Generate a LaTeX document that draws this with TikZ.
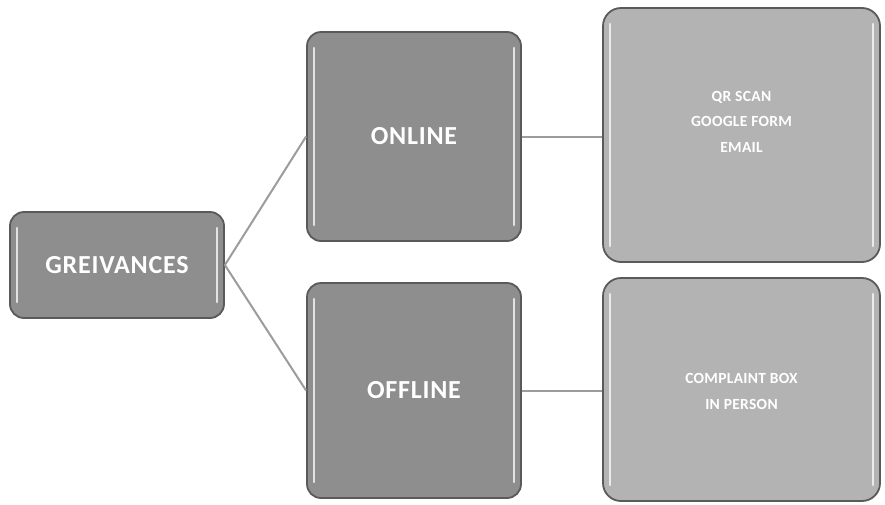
\documentclass[tikz,border=0pt]{standalone}
\usepackage{fontspec}
\setmainfont{Carlito}
\newfontfamily\boxfont[LetterSpace=3]{Carlito}
\newfontfamily\smallboxfont[LetterSpace=2]{Carlito}
\definecolor{darkfill}{HTML}{8E8E8E}
\definecolor{lightfill}{HTML}{B3B3B3}
\definecolor{edgegray}{HTML}{5A5A5A}
\definecolor{linkgray}{HTML}{9C9C9C}
\tikzset{
  gloss/.style={path picture={
    \draw[white, opacity=0.75, line width=2.5pt, line cap=round]
      ([xshift=7pt,yshift=-16pt]path picture bounding box.north west) --
      ([xshift=7pt,yshift=16pt]path picture bounding box.south west);
    \draw[white, opacity=0.75, line width=2.5pt, line cap=round]
      ([xshift=-7pt,yshift=-16pt]path picture bounding box.north east) --
      ([xshift=-7pt,yshift=16pt]path picture bounding box.south east);
  }},
  mainbox/.style={draw=edgegray, line width=1.8pt, fill=darkfill, rounded corners=14pt,
    text=white, font=\boxfont\fontsize{26}{30}\selectfont\bfseries, inner sep=0pt, gloss},
  subbox/.style={draw=edgegray, line width=1.8pt, fill=lightfill, rounded corners=18pt,
    inner sep=0pt, gloss},
  subtext/.style={text=white, font=\smallboxfont\fontsize{15.5}{25.5}\selectfont\bfseries, align=center},
  link/.style={draw=linkgray, line width=2pt}
}
\begin{document}
\begin{tikzpicture}[x=1pt,y=-1pt]
\useasboundingbox (0,0) rectangle (885,504);
\fill[white] (0,0) rectangle (885,504);
\node[mainbox, minimum width=214pt, minimum height=106pt] (g) at (117,265) {GREIVANCES};
\node[mainbox, minimum width=214pt, minimum height=209pt] (on) at (414,136.5) {ONLINE};
\node[mainbox, minimum width=214pt, minimum height=215pt] (off) at (414,390.5) {OFFLINE};
\node[subbox, minimum width=277pt, minimum height=254pt,
  label={[subtext, yshift=13.5pt]center:{QR SCAN\\GOOGLE FORM\\EMAIL}}] (r1) at (741.5,135) {};
\node[subbox, minimum width=277pt, minimum height=223pt,
  label={[subtext, yshift=-2pt]center:{COMPLAINT BOX\\IN PERSON}}] (r2) at (741.5,389.5) {};
\draw[link] (g.east) -- (on.west);
\draw[link] (g.east) -- (off.west);
\draw[link] (on.east) -- (r1.west |- on.east);
\draw[link] (off.east) -- (r2.west |- off.east);
\end{tikzpicture}
\end{document}
